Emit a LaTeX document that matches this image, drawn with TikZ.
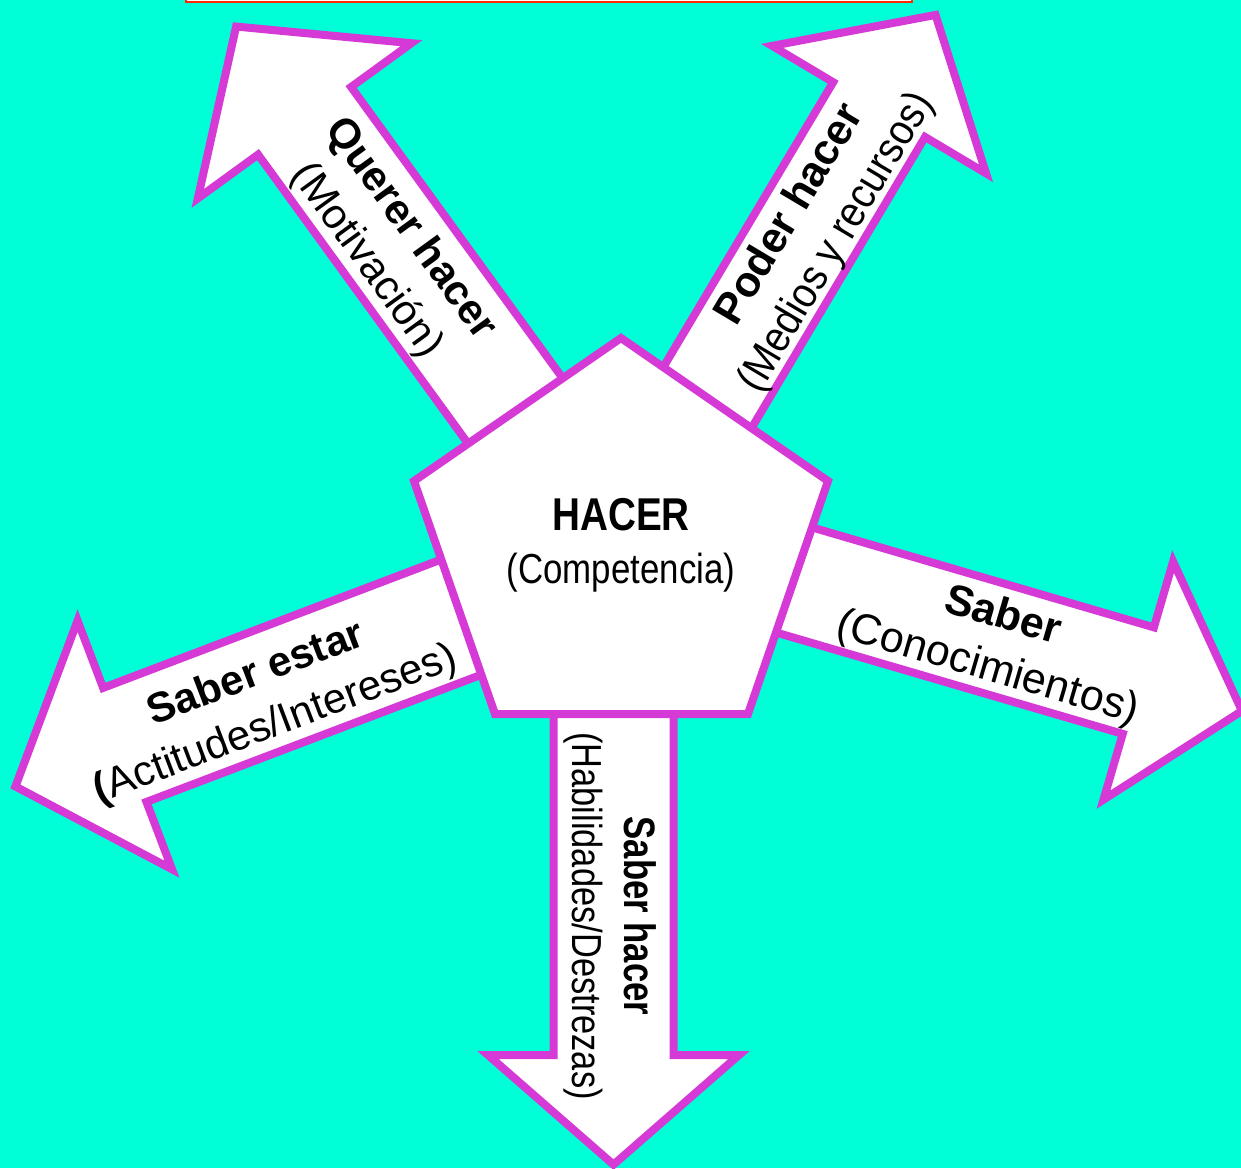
\documentclass[tikz,border=0pt]{standalone}
\usepackage{fontspec}
\setmainfont{Liberation Sans}
\usepackage{graphicx}
\definecolor{bgcyan}{RGB}{0,255,214}
\definecolor{magline}{RGB}{214,58,214}
\definecolor{redline}{RGB}{255,40,0}
\newcommand{\fsz}[1]{\fontsize{#1}{54}\selectfont}
\newcommand{\hsq}[2]{\scalebox{#1}[1]{#2}}
\newcommand{\bigarrow}[7]{%
  \begin{scope}[shift={(#1,#2)},rotate=#3]
    \draw[arrowbox] (-#4,-#5) -- (0,-#5) -- (0,-#6) -- (#7,0) -- (0,#6) -- (0,#5) -- (-#4,#5) -- cycle;
  \end{scope}}
\begin{document}
\begin{tikzpicture}[x=1pt,y=-1pt,
  arrowbox/.style={draw=magline,fill=white,line width=8pt,line join=miter},
  pentbox/.style={draw=magline,fill=white,line width=8pt,line join=miter},
  lbl/.style={align=center,inner sep=0pt,text=black}]
\useasboundingbox (0,0) rectangle (1241,1168);
\clip (0,0) rectangle (1241,1168);
\fill[bgcyan] (0,0) rectangle (1241,1168);
\draw[draw=redline,fill=white,line width=2.5pt] (186,-20) rectangle (912,2);

\bigarrow{1138.3}{680.6}{-16.3}{480}{55.5}{124}{108}
\bigarrow{304.6}{120.8}{126}{470}{57.5}{132}{116.5}
\bigarrow{879.1}{109.6}{59.2}{447}{53.5}{124.5}{110.2}
\bigarrow{613.5}{1055}{-90}{449}{60}{125.5}{109.6}
\bigarrow{124.8}{744.9}{200.8}{474}{61}{133}{117}

\draw[pentbox] (621,338) -- (828,481) -- (748,714) -- (495,714) -- (414,481) -- cycle;

\node[anchor=base,inner sep=0pt,font=\fsz{46}] (hacerT) at (621,530) {\hsq{0.84}{\textbf{HACER}}};
\node[anchor=base,inner sep=0pt,font=\fsz{42}] (compT) at (621,583) {\hsq{0.83}{(Competencia)}};

\node[lbl,rotate=-16.3,font=\fsz{43}] (saberT) at (995,643) {\textbf{Saber}\\(Conocimientos)};
\node[lbl,rotate=-54,font=\fsz{42}] (quererT) at (388,245) {\textbf{Querer hacer}\\(Motivación)};
\node[lbl,rotate=59.2,font=\fsz{43}] (poderT) at (814,229) {\textbf{Poder hacer}\\\hsq{0.9}{(Medios y recursos)}};
\node[lbl,rotate=20.8,font=\fsz{42}] (estarT) at (266,700) {\textbf{Saber estar}\\\textbf{(}Actitudes/Intereses)};
\node[lbl,rotate=-90,font=\fontsize{42}{52}\selectfont] (saberhT) at (610,916) {\fontsize{44}{52}\selectfont\hsq{0.79}{\textbf{Saber hacer}}\\\hsq{0.82}{(Habilidades/Destrezas)}};
\end{tikzpicture}
\end{document}
